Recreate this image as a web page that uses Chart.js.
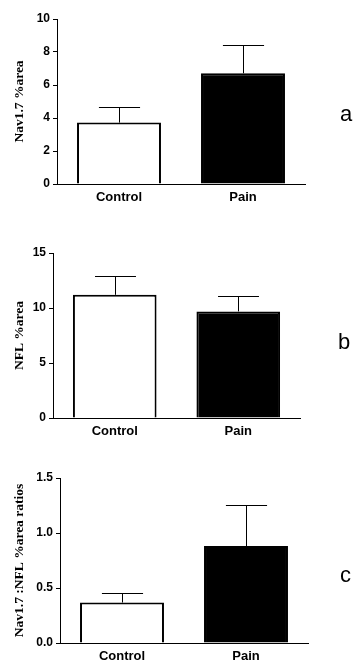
<!DOCTYPE html>
<html>
<head>
<meta charset="utf-8">
<script src="https://cdn.jsdelivr.net/npm/chart.js@4"></script>
<style>
  body { margin: 0; background: #fff; }
  .panel { position: absolute; left: 0; }
  .tag { position: absolute; font: 22px/22px "Liberation Sans", Arial, sans-serif; color: #000; }
</style>
</head>
<body>
<div class="panel" style="top:0"><canvas id="chartA" width="361" height="210"></canvas></div>
<div class="panel" style="top:210px"><canvas id="chartB" width="361" height="230"></canvas></div>
<div class="panel" style="top:440px"><canvas id="chartC" width="361" height="228"></canvas></div>
<div class="tag" style="left:340px;top:103px">a</div>
<div class="tag" style="left:338px;top:331px">b</div>
<div class="tag" style="left:340px;top:564px">c</div>
<script>
var categories = ['Control', 'Pain'];

// Nav1.7 %area
var navMeans = [3.72, 6.71];
var navErrors = [0.93, 1.71];
var navTicks = [0, 2, 4, 6, 8, 10];
var navTickLabels = ['0', '2', '4', '6', '8', '10'];

// NFL %area
var nflMeans = [11.2, 9.69];
var nflErrors = [1.67, 1.36];
var nflTicks = [0, 5, 10, 15];
var nflTickLabels = ['0', '5', '10', '15'];

// Nav1.7:NFL ratio
var ratioMeans = [0.368, 0.881];
var ratioErrors = [0.09, 0.37];
var ratioTicks = [0, 0.5, 1.0, 1.5];
var ratioTickLabels = ['0.0', '0.5', '1.0', '1.5'];

var barColors = ['#ffffff', '#000000'];

// SEM bars, upward only
var errorBars = {
    id: 'errorBars',
    afterDatasetsDraw: function (chart, args, opts) {
        var ctx = chart.ctx;
        var y = chart.scales.y;
        var meta = chart.getDatasetMeta(0);
        var data = chart.data.datasets[0].data;
        ctx.save();
        ctx.strokeStyle = '#000';
        ctx.lineWidth = 1;
        meta.data.forEach(function (bar, i) {
            var top = Math.round(y.getPixelForValue(data[i] + opts.errors[i])) + 0.5;
            var x = Math.round(bar.x) + 0.5;
            var half = bar.width * 0.245;
            ctx.beginPath();
            ctx.moveTo(x, bar.y);
            ctx.lineTo(x, top);
            ctx.moveTo(x - half, top);
            ctx.lineTo(x + half, top);
            ctx.stroke();
        });
        ctx.restore();
    }
};

function makeChart(id, title, means, errors, ticks, tickLabels, box) {
    var ctx = document.getElementById(id).getContext('2d');
    return new Chart(ctx, {
        type: 'bar',
        data: {
            labels: categories,
            datasets: [
                {
                    data: means,
                    backgroundColor: barColors,
                    borderColor: '#000',
                    borderWidth: 2,
                    barPercentage: 0.677,
                    categoryPercentage: 1.0
                }
            ]
        },
        options: {
            responsive: false,
            animation: false,
            layout: {
                padding: { left: 0, top: box.top, right: box.right, bottom: 0 }
            },
            plugins: {
                legend: { display: false },
                tooltip: { enabled: false },
                errorBars: { errors: errors }
            },
            scales: {
                x: {
                    grid: { display: false, drawTicks: false },
                    border: { color: '#000', width: 1 },
                    ticks: {
                        color: '#000',
                        padding: 6,
                        font: { family: 'Liberation Sans', size: 13, weight: 'bold' }
                    },
                    afterFit: function (s) { s.height = box.xh; }
                },
                y: {
                    min: ticks[0],
                    max: ticks[ticks.length - 1],
                    afterBuildTicks: function (s) {
                        s.ticks = ticks.map(function (v) { return { value: v }; });
                    },
                    afterFit: function (s) { s.width = box.left; },
                    grid: { drawOnChartArea: false, drawTicks: true, tickLength: 4, color: '#000' },
                    border: { color: '#000', width: 1 },
                    ticks: {
                        color: '#000',
                        padding: 3,
                        font: { family: 'Liberation Sans', size: 12, weight: 'bold' },
                        callback: function (v, i) { return tickLabels[i]; }
                    },
                    title: {
                        display: true,
                        text: title,
                        color: '#000',
                        padding: { top: 11, bottom: 0 },
                        font: { family: 'Liberation Serif', size: 13.5, weight: 'bold' }
                    }
                }
            }
        },
        plugins: [errorBars]
    });
}

makeChart('chartA', 'Nav1.7 %area', navMeans, navErrors, navTicks, navTickLabels,
    { left: 57, top: 19, right: 56, xh: 26 });
makeChart('chartB', 'NFL %area', nflMeans, nflErrors, nflTicks, nflTickLabels,
    { left: 53, top: 43, right: 61, xh: 22 });
makeChart('chartC', 'Nav1.7 :NFL %area ratios', ratioMeans, ratioErrors, ratioTicks, ratioTickLabels,
    { left: 60, top: 38, right: 53, xh: 25 });
</script>
</body>
</html>
